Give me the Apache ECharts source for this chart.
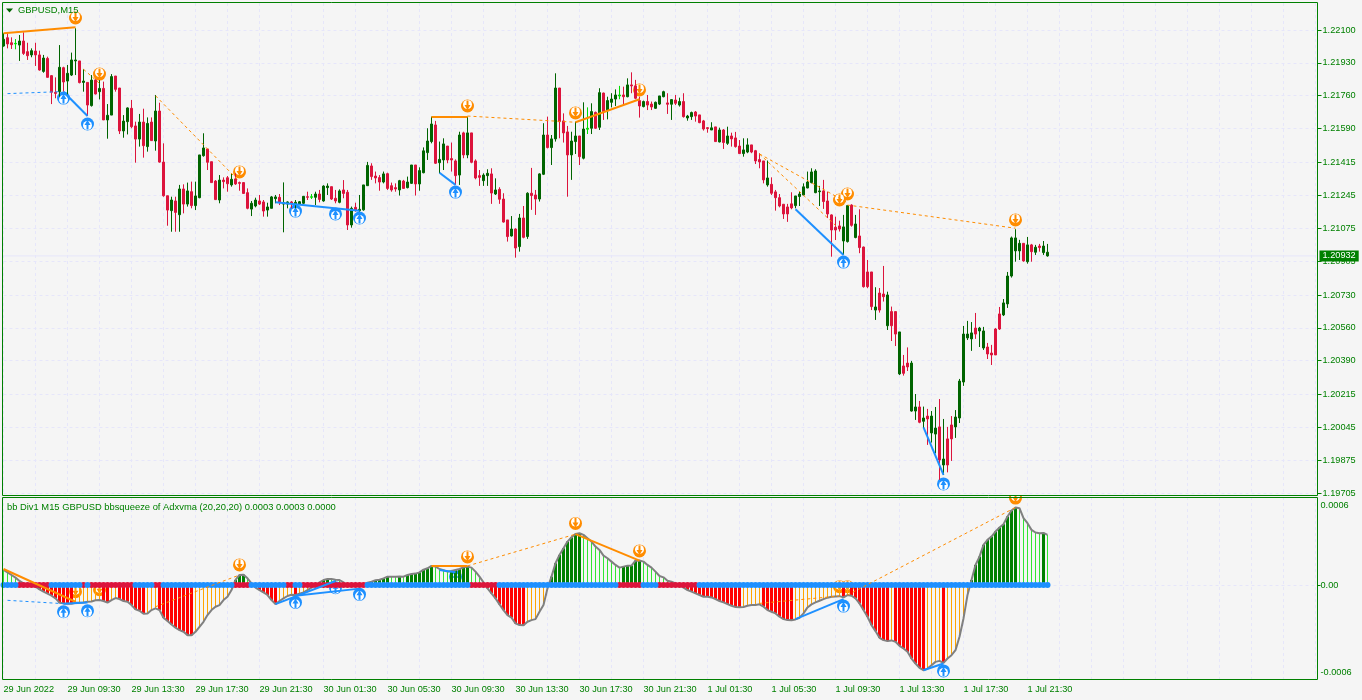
<!DOCTYPE html>
<html><head><meta charset="utf-8">
<script src="https://cdn.jsdelivr.net/npm/echarts@6/dist/echarts.min.js"></script>
<style>html,body{margin:0;padding:0;background:#F5F5F5}#c{width:1362px;height:700px}</style>
</head><body><div id="c"></div>
<script>
// Prices are stored as points above 1.19000
const direction = "GRRGGRRGRRGRRRGRGGGRGRGRGRGGRRGGRRGRGRGRRRGRGRGRGGGRRRGRRGRRRRGGRRGGGRGGRGGGRGGRGGRRGRRGRGGGRRRGRRRGRGGRGGGGRGGRRRGRGRRRGGRGRRRGRGRGRRGGRGGRRRGGRGGGRGRGGGGRGRRRGRRGGGRGRGRGGRRRRGRGRGRRRGGRRRRGRRRRRRGGGGGGGRRRRRGGRGRRRRGRRGRRGRRGGRGRGGRGRRGGGGGRGGRRRRGGGGGRGRGRGGRR";
const bodyTop = [3052,3060,3034,3031,3043,3043,2988,2993,2991,2971,2955,2953,2864,2778,2907,2905,2876,2945,2945,2940,2836,2829,2841,2841,2798,2798,2659,2859,2862,2800,2629,2697,2695,2604,2624,2624,2617,2624,2681,2681,2417,2243,2221,2216,2278,2278,2268,2264,2242,2454,2490,2485,2419,2319,2324,2324,2336,2328,2330,2311,2311,2259,2204,2221,2216,2211,2185,2237,2237,2235,2207,2211,2211,2209,2212,2240,2238,2238,2252,2252,2293,2293,2290,2230,2268,2273,2261,
2178,2183,2173,2299,2400,2397,2345,2337,2356,2357,2295,2285,2321,2319,2314,2402,2402,2373,2475,2526,2614,2609,2431,2511,2500,2435,2423,2557,2568,2568,2568,2423,2347,2350,2359,2356,2273,2276,2226,2118,2071,2071,2128,2128,2256,2256,2247,2356,2557,2557,2537,2800,2800,2630,2573,2526,2552,2552,2588,2592,2678,2674,2776,2774,2735,2743,2764,2764,2764,2816,2816,2811,2735,2730,2730,2717,2726,2759,2781,2723,2740,2738,2730,2730,2655,2673,2676,2661,
2630,2595,2594,2599,2583,2583,2552,2552,2542,2500,2480,2506,2506,2476,2430,2423,2335,2302,2263,2233,2199,2185,2201,2242,2252,2289,2314,2366,2371,2268,2268,2216,2144,2080,2087,2082,2192,2195,2097,2035,1978,1849,
1849,1668,1740,1735,1730,1644,1644,1539,1363,1378,1378,1151,1151,1094,1104,1104,1042,1048,882,986,1058,1099,1285,1528,1528,1534,1559,1559,1544,1461,1430,1554,1632,1689,1828,
2025,2025,1997,1997,1989,1989,1977,1983,1983,1951];
const bodyBottom = [3017,3028,3024,3028,3022,2979,2967,2971,2971,2893,2886,2855,2778,2772,2781,2831,2836,2867,2940,2828,2829,2712,2709,2769,2781,2635,2635,2660,2793,2578,2578,2626,2600,2536,2536,2502,2497,2528,2526,2417,2243,2169,2166,2157,2145,2200,2200,2192,2192,2233,2450,2416,2311,2223,2221,2316,2305,2299,2304,2307,2255,2178,2174,2190,2200,2164,2169,2178,2228,2209,2200,2200,2204,2200,2200,2204,2235,2235,2235,2224,2216,2285,2226,2216,2209,2255,2092,
2092,2166,2166,2170,2295,2342,2335,2314,2314,2281,2273,2278,2273,2281,2285,2307,2304,2304,2362,2466,2523,2411,2414,2428,2428,2428,2347,2350,2454,2454,2416,2335,2338,2321,2347,2257,2252,2225,2107,2032,2035,1973,1980,2028,2032,2244,2226,2226,2354,2492,2492,2537,2626,2568,2454,2454,2523,2445,2437,2587,2592,2592,2597,2678,2683,2726,2743,2759,2755,2755,2811,2747,2707,2704,2712,2702,2695,2717,2755,2716,2716,2721,2712,2652,2645,2652,2655,2621,
2588,2590,2583,2523,2521,2518,2514,2537,2497,2461,2461,2469,2469,2423,2418,2325,2299,2256,2233,2190,2149,2149,2180,2192,2239,2247,2283,2311,2259,2264,2213,2149,2066,2066,2071,2009,2006,2090,2027,1975,1773,1773,
1670,1652,1652,1721,1571,1571,1528,1322,1325,1358,1130,1130,1072,1077,1089,1017,1011,877,851,851,986,1048,1094,1280,1508,1503,1528,1544,1456,1425,1420,1420,1554,1627,1684,
1828,1958,1958,1906,1902,1954,1951,1975,1949,1932];
const highs = [3083,3083,3062,3053,3074,3088,3034,3005,3034,2993,2971,2962,2867,2855,3022,2910,2919,2983,3109,2940,2897,2829,2867,2845,2841,2833,2717,2872,2862,2800,2660,2700,2738,2626,2666,2693,2648,2648,2764,2724,2514,2243,2238,2238,2299,2302,2311,2316,2316,2454,2566,2485,2419,2324,2350,2338,2345,2359,2359,2316,2314,2281,2216,2233,2247,2221,2207,2242,2247,2252,2312,2214,2216,2221,2216,2242,2264,2252,2264,2273,2297,2307,2290,2273,2276,2324,2273,
2187,2207,2247,2299,2418,2411,2368,2350,2368,2362,2311,2307,2325,2325,2342,2402,2402,2390,2493,2592,2652,2630,2523,2540,2500,2518,2431,2574,2574,2652,2568,2431,2376,2359,2380,2385,2333,2287,2256,2118,2138,2075,2149,2190,2261,2387,2273,2359,2618,2652,2557,2876,2800,2669,2604,2574,2626,2552,2726,2700,2721,2678,2799,2776,2755,2773,2793,2811,2807,2850,2881,2842,2755,2735,2764,2730,2730,2759,2786,2773,2743,2764,2750,2773,2661,2678,2681,2661,
2635,2597,2623,2599,2595,2588,2600,2569,2573,2531,2540,2540,2506,2480,2463,2423,2425,2338,2273,2252,2199,2201,2261,2242,2264,2307,2368,2385,2380,2294,2325,2264,2147,2135,2114,2144,2192,2199,2144,2173,1980,1911,
1849,1770,1766,1880,1747,1670,1644,1539,1420,1459,1389,1218,1182,1153,1141,1130,1151,1192,1089,1048,1104,1135,1296,1570,1596,1590,1637,1565,1565,1482,1472,1559,1668,1709,1849,
2032,2070,2015,1997,2030,1994,1989,1994,2009,1994];
const lows = [3014,3005,3002,3000,2940,2971,2945,2959,2914,2890,2879,2855,2717,2747,2755,2781,2764,2862,2867,2824,2781,2655,2704,2767,2741,2635,2538,2660,2781,2562,2543,2560,2592,2414,2497,2440,2471,2526,2476,2414,2238,2088,2057,2057,2057,2152,2187,2178,2169,2230,2445,2376,2311,2221,2204,2281,2264,2290,2299,2269,2252,2173,2138,2183,2195,2135,2135,2178,2204,2195,2054,2178,2178,2178,2195,2200,2221,2226,2195,2209,2212,2247,2221,2204,2204,2230,2066,
2078,2161,2161,2166,2294,2325,2307,2269,2307,2273,2264,2264,2244,2278,2281,2304,2244,2269,2359,2428,2514,2407,2359,2376,2411,2368,2299,2299,2437,2437,2411,2328,2294,2294,2294,2201,2247,2201,2104,2006,2032,1923,1954,2023,2020,2170,2144,2213,2350,2488,2402,2523,2540,2518,2238,2325,2459,2402,2431,2562,2562,2588,2583,2635,2638,2700,2707,2742,2712,2752,2773,2742,2647,2700,2686,2686,2692,2712,2752,2666,2635,2712,2704,2647,2631,2635,2626,2618,
2580,2569,2583,2521,2519,2485,2506,2497,2492,2459,2445,2463,2463,2407,2385,2307,2290,2247,2166,2183,2123,2108,2173,2178,2190,2244,2282,2307,2256,2190,2175,2128,1928,2014,2058,1937,2001,2083,2023,1946,1768,1765,
1652,1601,1639,1696,1549,1492,1466,1316,1313,1337,1127,1084,1067,1041,955,967,911,774,799,813,872,991,1068,1260,1497,1441,1503,1461,1446,1399,1368,1420,1549,1621,1663,
1820,1902,1911,1902,1892,1902,1937,1954,1937,1928];
const lastPrice = 1.20932;
const dojiBars = [3,77,146,154];
const priceTicks = [1.22100,1.21930,1.21760,1.21590,1.21415,1.21245,1.21075,1.20905,1.20730,1.20560,1.20390,1.20215,1.20045,1.19875,1.19705];
const timeTicks = ["29 Jun 2022","29 Jun 09:30","29 Jun 13:30","29 Jun 17:30","29 Jun 21:30","30 Jun 01:30","30 Jun 05:30","30 Jun 09:30","30 Jun 13:30","30 Jun 17:30","30 Jun 21:30","1 Jul 01:30","1 Jul 05:30","1 Jul 09:30","1 Jul 13:30","1 Jul 17:30","1 Jul 21:30"];
// Indicator values in millionths
const squeeze = [108,91,72,53,29,12,-5,-5,-12,-31,-48,-62,-77,-96,-127,-132,-134,-135,-127,-127,-125,-120,-118,-110,-108,-115,-127,-108,-94,-101,-115,-120,-144,-175,-185,-206,-204,-180,-168,-180,-235,-259,-283,-307,-324,-336,-360,-361,-336,-300,-264,-216,-180,-156,-144,-108,-84,-36,36,72,74,48,12,-19,-36,-53,-72,-108,-137,-115,-96,-79,-70,-72,-62,-53,-36,-19,-5,19,36,43,43,38,36,19,-5,
-7,-5,1,5,17,24,34,38,48,60,60,60,61,60,72,79,82,91,110,120,137,132,115,106,96,101,108,115,127,132,125,96,60,19,-24,-60,-96,-139,-180,-216,-235,-276,-288,-289,-264,-252,-245,-192,-144,-24,60,156,216,264,312,343,367,372,360,336,312,276,252,211,192,168,144,125,132,139,140,175,176,168,144,125,96,65,55,31,24,12,1,-19,-36,-48,-60,-72,
-84,-85,-89,-101,-115,-125,-137,-149,-158,-159,-158,-149,-144,-143,-139,-156,-180,-192,-204,-228,-245,-252,-253,-247,-235,-204,-161,-139,-125,-113,-101,-91,-84,-82,-80,-89,-72,-77,-96,-132,-180,-228,-288,-331,-379,-396,-403,-398,-408,-437,-456,-480,-528,-564,-595,-612,-600,-576,-552,-545,-559,-528,-504,-468,-372,-240,-72,36,144,204,288,324,348,384,413,437,492,535,557,552,480,444,396,377,372,374,360];
const squeezeRedRanges = [[4,11],[20,20],[22,32],[38,39],[58,61],[71,72],[75,90],[117,123],[154,159],[164,173]];

// Divergence lines: [fromBar, fromValue, toBar, toValue]
const priceOrangeSolid = [[0,3083,18,3114],[107,2650,116,2650],[143,2623,159,2742]];
const priceOrangeDash = [[20,2897,24,2824],[38,2760,59,2316],[116,2655,143,2623],[189,2459,208,2090],[189,2459,211,2207],[211,2195,253,2075]];
const priceBlueSolid = [[15,2781,21,2655],[68,2209,89,2166],[109,2362,113,2299],[198,2173,210,1937],[230,1046,235,800]];
const priceBlueDash = [[1,2771,14,2781]];
const indOrangeSolid = [[0,115,18,-120],[107,137,116,137],[143,365,159,175]];
const indOrangeDash = [[38,-156,59,72],[116,137,143,365],[189,-132,209,-79],[211,-72,253,557]];
const indBlueSolid = [[15,-134,21,-125],[68,-137,83,29],[73,-77,89,-26],[109,108,113,91],[198,-245,210,-101],[230,-612,235,-564]];
const indBlueDash = [[1,-110,15,-134]];
// Arrow markers: [bar, value]
const priceSellMarks = [[18,3162],[24,2872],[59,2366],[116,2707],[143,2671],[159,2790],[209,2221],[211,2252],[253,2118]];
const priceBuyMarks = [[15,2748],[21,2614],[73,2164],[83,2149],[89,2128],[113,2262],[210,1900],[235,753]];
const indSellMarks = [[18,-48],[24,-34],[59,144],[116,202],[143,442],[159,245],[209,-12],[211,-12],[253,624]];
const indBuyMarks = [[15,-192],[21,-185],[73,-125],[83,-19],[89,-67],[113,60],[210,-151],[235,-617]];

const TOTAL_BARS = 329;
const BG='#F5F5F5', GREEN='#008000', DK='#006400', RED='#DC143C', ORANGE='#FF8C00', BLUE='#1E90FF', GRID='#E6E6FA';
const FONT='"Liberation Sans", Arial, sans-serif', FS=9.2;
const px = p => +(1.19 + p/1e5).toFixed(5);
const mu = v => v/1e6;
const cats = Array.from({length:TOTAL_BARS},(_,i)=>String(i));

const candles = direction.split('').map((d,i)=>{
  const o = d==='G'?bodyBottom[i]:bodyTop[i], c = d==='G'?bodyTop[i]:bodyBottom[i];
  const value=[px(o),px(c),px(lows[i]),px(highs[i])];
  if(dojiBars.includes(i)) return {value,itemStyle:{color:'#00E000',color0:'#00E000',borderColor:'#00E000',borderColor0:'#00E000'}};
  return {value};
});

function segSeries(list,conv,color,width,dash,xi,yi){
  return list.map(s=>({type:'line',xAxisIndex:xi,yAxisIndex:yi,showSymbol:false,symbol:'none',z:8,silent:true,animation:false,
    lineStyle:{color,width,type:dash?[3,3]:'solid',cap:'butt'},
    data:[[s[0],conv(s[1])],[s[2],conv(s[3])]]}));
}
function marks(list,conv,color,down,xi,yi){
  const data=list.map(m=>[m[0],conv(m[1])]);
  const base={type:'scatter',xAxisIndex:xi,yAxisIndex:yi,silent:true,clip:false,data};
  const arch=down?[0,-1.5]:[0,1.5];
  return [
    Object.assign({},base,{symbol:'circle',symbolSize:13,z:2,itemStyle:{color,opacity:1}}),
    Object.assign({},base,{symbol:'circle',symbolSize:9,symbolOffset:arch,z:3,itemStyle:{color:'#fff',opacity:1}}),
    Object.assign({},base,{symbol:'triangle',symbolSize:[6,5],symbolRotate:down?180:0,symbolOffset:down?[0,1.5]:[0,-1.5],z:3,itemStyle:{color,opacity:1}}),
    Object.assign({},base,{symbol:'rect',symbolSize:[2,7],symbolOffset:down?[0,-2]:[0,2],z:3,itemStyle:{color,opacity:1}})
  ];
}
// histogram classes
const hist={dk:[],li:[],re:[],or:[]};
squeeze.forEach((v,i)=>{
  const prev=i?squeeze[i-1]:v+1;
  const k=v>=0?(v>prev?'dk':'li'):(v<prev?'re':'or');
  for(const n in hist) hist[n].push(n===k?mu(v):null);
});
const isRed=i=>squeezeRedRanges.some(r=>i>=r[0]&&i<=r[1]);
const dotsBlue=[],dotsRed=[];
squeeze.forEach((_,i)=>(isRed(i)?dotsRed:dotsBlue).push([i,0]));

const baseX=(gi)=>({type:'category',gridIndex:gi,data:cats,boundaryGap:false,
  axisLine:{show:false},axisTick:{show:false},axisLabel:{show:false},
  splitLine:{show:false}});
const vSplit={show:true,interval:(i)=>i%8===0,lineStyle:{color:GRID,type:[3,3],width:1}};

const option={
  animation:false,backgroundColor:BG,
  title:[
   {text:'GBPUSD,M15',left:18,top:5.5,padding:0,textStyle:{color:GREEN,fontFamily:FONT,fontSize:9.4,fontWeight:'normal'}},
   {text:'bb Div1 M15 GBPUSD bbsqueeze of Adxvma (20,20,20) 0.0003 0.0003 0.0000',left:7,top:503,padding:0,textStyle:{color:GREEN,fontFamily:FONT,fontSize:9.37,fontWeight:'normal'}}
  ],
  grid:[{left:3.5,width:1312,top:3,height:492},{left:3.5,width:1312,top:497,height:182}],
  xAxis:[
    Object.assign(baseX(0),{splitLine:vSplit}),
    Object.assign(baseX(1),{splitLine:vSplit,
      axisTick:{show:true,interval:(i)=>i%16===0&&i<=256,length:3,lineStyle:{color:GREEN},inside:false},
      axisLabel:{show:true,interval:(i)=>i%16===0&&i<=256,align:'left',margin:6,color:GREEN,fontFamily:FONT,fontSize:FS,
        formatter:(v,i)=>timeTicks[+v/16]||''}}),
    baseX(1)
  ],
  yAxis:[
    {type:'value',gridIndex:0,position:'right',offset:2,min:1.196959,max:1.222395,scale:true,
     axisLine:{show:false},
     axisTick:{show:true,length:4,lineStyle:{color:GREEN},customValues:priceTicks},
     axisLabel:{color:GREEN,fontFamily:FONT,fontSize:FS,margin:5,customValues:priceTicks,formatter:v=>v.toFixed(5)},
     splitLine:{show:true,lineStyle:{color:GRID,type:[3,3],width:1}}},
    {type:'value',gridIndex:1,position:'right',offset:2,min:-0.000675,max:0.000632,scale:true,
     axisLine:{show:false},
     axisTick:{show:true,length:3,lineStyle:{color:GREEN},customValues:[0]},
     axisLabel:{color:GREEN,fontFamily:FONT,fontSize:FS,margin:3,customValues:[0.00057,0,-0.000625],
       formatter:v=>v===0?'0.00':(v>0?'0.0006':'-0.0006')},
     splitLine:{show:true,lineStyle:{color:GRID,type:[3,3],width:1}}}
  ],
  series:[
    {type:'line',xAxisIndex:0,yAxisIndex:0,showSymbol:false,symbol:'none',z:1,silent:true,
     lineStyle:{color:GRID,type:'solid',width:1},
     endLabel:{show:true,distance:4,formatter:()=>lastPrice.toFixed(5),color:'#fff',backgroundColor:GREEN,padding:[1,3,1,3],fontFamily:FONT,fontSize:FS},
     data:[[0,lastPrice],[TOTAL_BARS-1,lastPrice]]},
    ...marks(priceSellMarks,px,ORANGE,true,0,0),
    ...marks(priceBuyMarks,px,BLUE,false,0,0),
    {type:'candlestick',xAxisIndex:0,yAxisIndex:0,barWidth:3,z:5,clip:false,silent:true,
     itemStyle:{color:DK,color0:RED,borderColor:DK,borderColor0:RED,borderWidth:1},
     data:candles},
    ...segSeries(priceOrangeSolid,px,ORANGE,2,false,0,0),
    ...segSeries(priceOrangeDash,px,ORANGE,1,true,0,0),
    ...segSeries(priceBlueSolid,px,BLUE,2,false,0,0),
    ...segSeries(priceBlueDash,px,BLUE,1,true,0,0),

    ...marks(indSellMarks,mu,ORANGE,true,1,1),
    ...marks(indBuyMarks,mu,BLUE,false,1,1),
    {type:'bar',xAxisIndex:1,yAxisIndex:1,barWidth:3,barGap:'-100%',z:4,clip:false,silent:true,itemStyle:{color:'#008000'},data:hist.dk},
    {type:'bar',xAxisIndex:1,yAxisIndex:1,barWidth:3,barGap:'-100%',z:4,clip:false,silent:true,itemStyle:{color:'#FF0000'},data:hist.re},
    {type:'bar',xAxisIndex:2,yAxisIndex:1,barWidth:1,barGap:'-100%',z:4,clip:false,silent:true,itemStyle:{color:'#32E632'},data:hist.li},
    {type:'bar',xAxisIndex:2,yAxisIndex:1,barWidth:1,barGap:'-100%',z:4,clip:false,silent:true,itemStyle:{color:'#FFA500'},data:hist.or},
    {type:'line',xAxisIndex:1,yAxisIndex:1,showSymbol:false,symbol:'none',z:6,silent:true,lineStyle:{color:'#808080',width:2},data:squeeze.map(mu)},
    {type:'scatter',xAxisIndex:1,yAxisIndex:1,symbol:'circle',symbolSize:6,z:7,silent:true,clip:false,itemStyle:{color:RED,opacity:1},data:dotsRed},
    {type:'scatter',xAxisIndex:1,yAxisIndex:1,symbol:'circle',symbolSize:6,z:7,silent:true,clip:false,itemStyle:{color:BLUE,opacity:1},data:dotsBlue},
    ...segSeries(indOrangeSolid,mu,ORANGE,2,false,1,1),
    ...segSeries(indOrangeDash,mu,ORANGE,1,true,1,1),
    ...segSeries(indBlueSolid,mu,BLUE,2,false,1,1),
    ...segSeries(indBlueDash,mu,BLUE,1,true,1,1)
  ],
  graphic:{elements:[
    {type:'rect',z:100,silent:true,shape:{x:1006,y:489,width:18,height:7},style:{fill:BG}},
    {type:'polygon',z:100,silent:true,shape:{points:[[6,8.5],[13,8.5],[9.5,12.5]]},style:{fill:DK}},
    {type:'rect',z:101,silent:true,shape:{x:2.5,y:2.5,width:1315,height:493},style:{fill:'none',stroke:GREEN,lineWidth:1}},
    {type:'rect',z:101,silent:true,shape:{x:2.5,y:497.5,width:1315,height:182},style:{fill:'none',stroke:GREEN,lineWidth:1}}
  ]}
};
echarts.init(document.getElementById('c'),null,{renderer:'canvas'}).setOption(option);
</script></body></html>
